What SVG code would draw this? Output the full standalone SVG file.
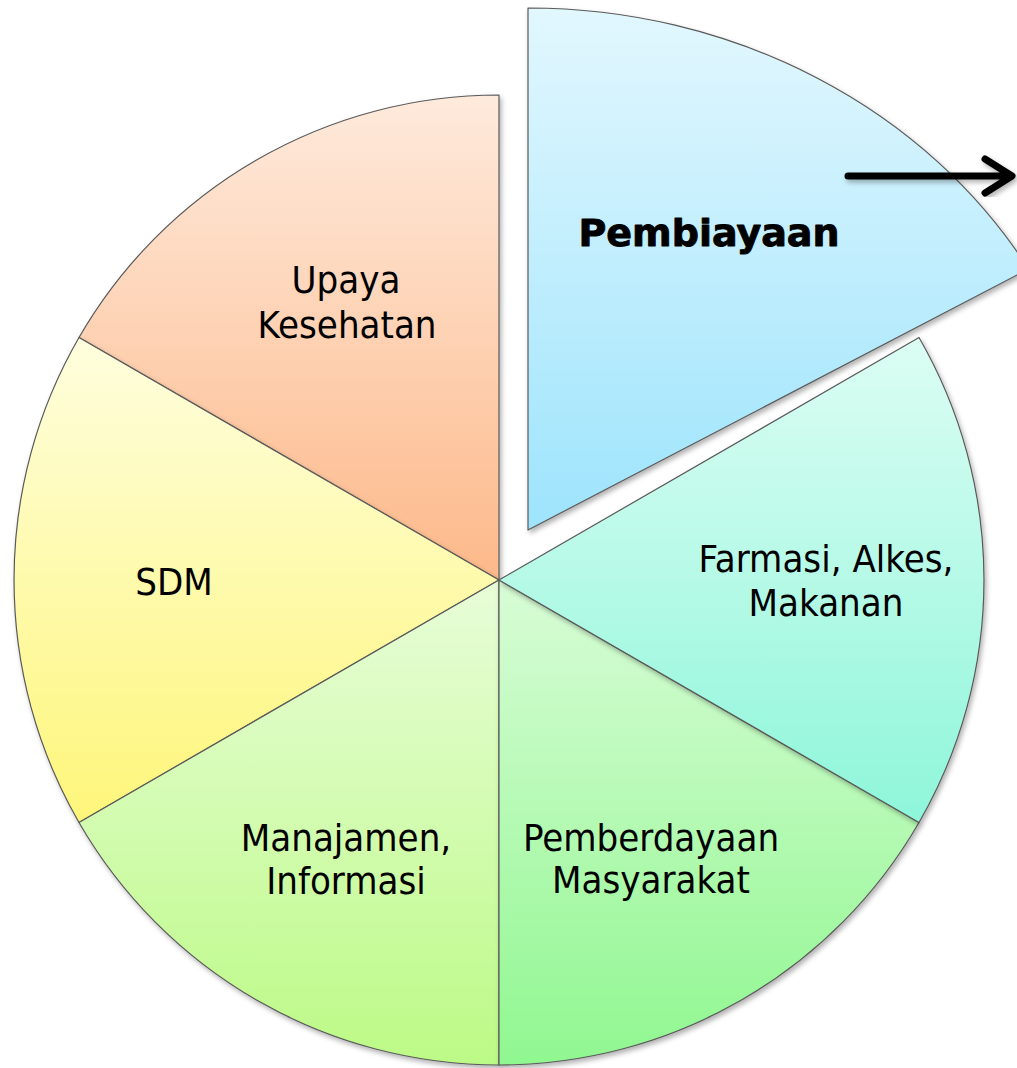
<svg xmlns="http://www.w3.org/2000/svg" width="1017" height="1068" viewBox="0 0 1017 1068">
<defs>
  <linearGradient id="gUpaya" x1="0" y1="0" x2="0" y2="1"><stop offset="0" stop-color="#FEEADC"/><stop offset="1" stop-color="#FDB98A"/></linearGradient>
  <linearGradient id="gSdm" x1="0" y1="0" x2="0" y2="1"><stop offset="0" stop-color="#FEFEDE"/><stop offset="1" stop-color="#FEF67A"/></linearGradient>
  <linearGradient id="gMan" x1="0" y1="0" x2="0" y2="1"><stop offset="0" stop-color="#E8FDD8"/><stop offset="1" stop-color="#BCFA86"/></linearGradient>
  <linearGradient id="gPem" x1="0" y1="0" x2="0" y2="1"><stop offset="0" stop-color="#D8FCD6"/><stop offset="1" stop-color="#90F790"/></linearGradient>
  <linearGradient id="gFar" x1="0" y1="0" x2="0" y2="1"><stop offset="0" stop-color="#DCFDF3"/><stop offset="1" stop-color="#8EF6DA"/></linearGradient>
  <linearGradient id="gBia" x1="0" y1="0" x2="0" y2="1"><stop offset="0" stop-color="#E2F7FE"/><stop offset="1" stop-color="#9DE4FC"/></linearGradient>
  <filter id="shadow" x="-10%" y="-10%" width="120%" height="120%">
    <feDropShadow dx="2" dy="3" stdDeviation="2.5" flood-color="#000" flood-opacity="0.3"/>
  </filter>
</defs>
<style>
  .slice { stroke: #5a5a5a; stroke-width: 1.2; stroke-linejoin: round; filter: url(#shadow); }
  .lbl { font-family: "DejaVu Sans Condensed", "DejaVu Sans", sans-serif; font-stretch: condensed; font-size: 38px; fill: #000; text-anchor: middle; }
  .bold { font-family: "DejaVu Sans", sans-serif; font-weight: bold; font-size: 38px; fill: #000; stroke: #000; stroke-width: 0.9; stroke-linejoin: round; text-anchor: middle; }
  .arrow { fill: none; stroke: #000; stroke-width: 7; stroke-linecap: round; stroke-linejoin: round; filter: url(#shadow); }
</style>
<rect width="1017" height="1068" fill="#fff"/>
<g id="slice-upaya">
  <path class="slice" fill="url(#gUpaya)" d="M499,580 L79,337.5 A485,485 0 0 1 499,95 Z"/>
  <text class="lbl" x="346" y="293">Upaya</text>
  <text class="lbl" x="347" y="338">Kesehatan</text>
</g>
<g id="slice-sdm">
  <path class="slice" fill="url(#gSdm)" d="M499,580 L79,822.5 A485,485 0 0 1 79,337.5 Z"/>
  <text class="lbl" x="174" y="595">SDM</text>
</g>
<g id="slice-manajamen">
  <path class="slice" fill="url(#gMan)" d="M499,580 L499,1065 A485,485 0 0 1 79,822.5 Z"/>
  <text class="lbl" x="346" y="851">Manajamen,</text>
  <text class="lbl" x="346" y="894">Informasi</text>
</g>
<g id="slice-pemberdayaan">
  <path class="slice" fill="url(#gPem)" d="M499,580 L919,822.5 A485,485 0 0 1 499,1065 Z"/>
  <text class="lbl" x="651" y="851">Pemberdayaan</text>
  <text class="lbl" x="651" y="893">Masyarakat</text>
</g>
<g id="slice-farmasi">
  <path class="slice" fill="url(#gFar)" d="M499,580 L919,337.5 A485,485 0 0 1 919,822.5 Z"/>
  <text class="lbl" x="826" y="572">Farmasi, Alkes,</text>
  <text class="lbl" x="826" y="616">Makanan</text>
</g>
<g id="slice-pembiayaan">
  <path class="slice" fill="url(#gBia)" d="M528,530 L528,8 A578,522 0 0 1 1028.6,269 Z"/>
  <text class="bold" x="709" y="246">Pembiayaan</text>
</g>
<g id="connectors">
  <path class="arrow" d="M848,176 L1010,176 M985,159 L1012,176 L985,193"/>
</g>
</svg>
